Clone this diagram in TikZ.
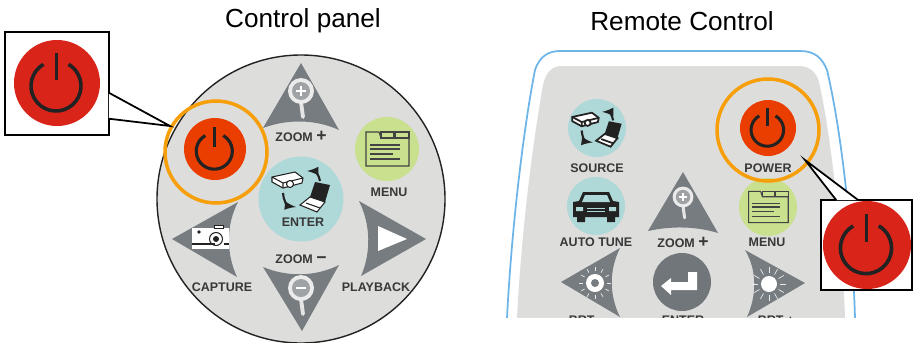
\documentclass[tikz,border=0pt]{standalone}
\usepackage{fontspec}
\setmainfont{Liberation Sans}
\usetikzlibrary{arrows,shapes}
\definecolor{padgray}{HTML}{DDDDDC}
\definecolor{tricolor}{HTML}{767C7F}
\definecolor{inkcolor}{HTML}{222222}
\definecolor{ringcolor}{HTML}{F79F0A}
\definecolor{btnred}{HTML}{EA3D00}
\definecolor{zoomred}{HTML}{D92419}
\definecolor{edgeblue}{HTML}{6DB5E8}
\definecolor{tealbtn}{HTML}{AFD8D8}
\definecolor{greenbtn}{HTML}{C9E08F}
\tikzset{
  title/.style={font=\fontsize{14.9}{16}\selectfont,inner sep=0pt},
  keylabel/.style={font=\fontsize{7.1}{8}\selectfont\bfseries,text=black!78,inner sep=0pt},
  orangering/.style={draw=ringcolor,line width=2pt},
  calloutbox/.style={draw=black,fill=white,line width=.8pt,inner sep=0pt,minimum width=#1},
  pointer/.style={draw=black,fill=white,line width=1pt},
}
\newcommand{\bigsign}[1]{{\fontsize{10}{8}\selectfont #1}}
% x y radius discolor
\newcommand{\powerbtn}[4]{%
\begin{scope}[shift={(#1,#2)},scale=#3/43]
\fill[#4] (0,0) circle[radius=43];
\draw[inkcolor,line width=1.1pt+#3*.022pt] (-1,3)+(240:25) arc[start angle=240,end angle=-60,radius=25];
\draw[inkcolor,line width=1.1pt+#3*.022pt] (-.5,-30) -- (-.5,-3);
\end{scope}}
% x y scale sign
\newcommand{\magnifier}[4]{%
\begin{scope}[shift={(#1,#2)},scale=#3]
\draw[white!90!black,line width=#3*2.2pt,line cap=round] (0,11) -- (2,26);
\fill[black!8] (0,0) circle[radius=13];
\fill[tricolor!70] (0,0) circle[radius=9];
\draw[white,line width=#3*.8pt] (-5,0) -- (5,0);
#4
\end{scope}}
\newcommand{\plussign}{\draw[white,line width=.8pt] (0,-5) -- (0,5);}
% x y scale
\newcommand{\menudoc}[3]{%
\begin{scope}[shift={(#1,#2)},scale=#3]
\draw[inkcolor!85,line width=.6pt] (-21,-17) -- (-8,-17) -- (-6,-11) -- (22,-11) -- (22,17) -- (-21,17) -- cycle;
\draw[inkcolor!85,line width=.6pt] (-6,-17) rectangle (7,-11) (8,-17) rectangle (22,-11);
\foreach \yy/\xe in {-4/13,0/13,5/6,10/13}
  \draw[inkcolor!85,line width=.8pt] (-17,\yy) -- (\xe,\yy);
\end{scope}}
% x y scale linewidth
\newcommand{\enterart}[4]{%
\begin{scope}[shift={(#1,#2)},scale=#3]
\draw[inkcolor,fill=white,line width=#4] (-29,-13) -- (-6,-18) -- (2,-12) -- (1,-7) -- (-18,-2) -- (-29,-8) -- cycle;
\draw[inkcolor,line width=#4] (-29,-13) -- (-18,-7) -- (2,-12) (-18,-7) -- (-18,-2);
\draw[inkcolor,fill=white,line width=#4] (-11,-6) circle[radius=3.5];
\fill[inkcolor] (14,-8) -- (29,-5) -- (24,12) -- (9,7) -- cycle;
\draw[inkcolor,fill=white,line width=#4] (9,7) -- (24,12) -- (16,22) -- (-1,15) -- cycle;
\draw[inkcolor,line width=#4] (5,13) -- (19,18);
\draw[inkcolor,line width=1.2pt,-latex] (19,-9) .. controls (18,-16) and (13,-19) .. (6,-19);
\draw[inkcolor,line width=1.2pt,-latex] (-18,3) .. controls (-18,10) and (-13,16) .. (-5,17);
\end{scope}}
% x y
\newcommand{\camera}[2]{%
\begin{scope}[shift={(#1,#2)}]
\fill[white] (-19,-10) rectangle (18,11);
\fill[white] (3,-13) rectangle (12,-10);
\draw[inkcolor,line width=.4pt] (3,-13) rectangle (12,-10);
\draw[inkcolor,line width=.7pt] (-19,6) -- (4,6) (13,6) -- (18,6);
\fill[inkcolor] (-12,-6) circle[radius=1.8];
\draw[inkcolor,line width=.6pt] (5,1) circle[radius=6.5];
\fill[inkcolor] (5,1) circle[radius=3];
\end{scope}}
% x y
\newcommand{\carart}[2]{%
\begin{scope}[shift={(#1,#2)}]
\fill[inkcolor] (-23,-3) -- (-17,-4) -- (-13,-13) -- (13,-13) -- (17,-4) -- (23,-3) -- (23,12) -- (19,12) -- (19,17) -- (11,17) -- (11,12) -- (-11,12) -- (-11,17) -- (-19,17) -- (-19,12) -- (-23,12) -- cycle;
\fill[tealbtn] (-11,-10) -- (11,-10) -- (14,-3) -- (-14,-3) -- cycle;
\fill[tealbtn] (-20,2) rectangle (-13,6) (13,2) rectangle (20,6);
\draw[tealbtn,line width=.5pt] (-9,3) -- (9,3) (-9,6) -- (9,6);
\end{scope}}
% x y coreradius innerradius raystart rayend
\newcommand{\sunart}[6]{%
\begin{scope}[shift={(#1,#2)}]
\foreach \ang in {0,30,...,330}
  \draw[white!85!tricolor,line width=.4pt] (\ang:#5) -- (\ang:#6);
\fill[white] (0,0) circle[radius=#3];
\fill[tricolor] (0,0) circle[radius=#4];
\end{scope}}
\begin{document}
\begin{tikzpicture}[x=0.02cm,y=-0.02cm]
\useasboundingbox (0,0) rectangle (915,342);
\node[title] (paneltitle) at (303,21) {Control panel};
\node[title] (remotetitle) at (682,21) {Remote Control};
\begin{scope}
\clip (0,0) rectangle (915,342);
\filldraw[fill=padgray,draw=inkcolor,line width=.8pt] (301,199) circle[radius=144];
\end{scope}
\fill[tricolor] (301,63) -- (339,130) .. controls (315,119) and (287,119) .. (263,128) -- cycle;
\fill[tricolor] (302,331) -- (263,267) .. controls (287,277) and (315,277) .. (339,265) -- cycle;
\fill[tricolor] (172,239) -- (238,202) .. controls (226,225) and (226,253) .. (237,277) -- cycle;
\fill[tricolor] (426,239) -- (359,201) .. controls (371,225) and (371,253) .. (361,276) -- cycle;
\magnifier{301}{91}{1}{\plussign}
\magnifier{301}{288}{1}{}
\fill[white] (378,226) -- (407,239) -- (378,251) -- cycle;
\camera{211}{238}
\fill[greenbtn] (387,149) circle[radius=32];
\menudoc{387}{149}{1}
\fill[tealbtn] (301,199) circle[radius=42.5];
\enterart{301}{190}{1}{.6pt}
\powerbtn{215}{149}{31}{btnred}
\node[keylabel] (zoominlabel) at (301,136) {ZOOM \bigsign{+}};
\node[keylabel] (menulabel) at (389,192) {MENU};
\node[keylabel] (enterlabel) at (303,222) {ENTER};
\node[keylabel] (zoomoutlabel) at (301,259) {ZOOM \bigsign{−}};
\node[keylabel] (capturelabel) at (222,287) {CAPTURE};
\node[keylabel] (playbacklabel) at (376,287) {PLAYBACK};
\begin{scope}
\clip (490,0) rectangle (915,317);
\draw[edgeblue,line width=1pt,fill=white] (507,318) .. controls (512,220) and (525,120) .. (535,70) .. controls (540,55) and (550,51) .. (560,51) -- (800,51) .. controls (815,51) and (822,58) .. (827,70) .. controls (840,125) and (852,220) .. (855,318);
\fill[padgray] (517,318) .. controls (522,220) and (535,130) .. (543,85) .. controls (546,72) and (552,66) .. (562,66) -- (798,66) .. controls (810,66) and (816,72) .. (819,82) .. controls (832,140) and (842,240) .. (845,318) -- cycle;
\fill[tealbtn] (597,128) circle[radius=29];
\enterart{597}{128}{.85}{1pt}
\fill[tealbtn] (596,206) circle[radius=29];
\carart{596}{205}
\fill[greenbtn] (768,207) circle[radius=29];
\menudoc{768}{207}{.92}
\powerbtn{768}{128}{28}{btnred}
\fill[tricolor] (683,172) -- (718,233) .. controls (695,226) and (671,226) .. (648,231) -- cycle;
\magnifier{683}{197}{.8}{\plussign}
\fill[tricolor!95!black] (682,282) circle[radius=29];
\fill[white] (688,272) -- (697,272) -- (697,290) -- (671,290) -- (671,295) -- (661,286) -- (671,278) -- (671,282) -- (688,282) -- cycle;
\fill[tricolor] (561,282) -- (620,248) .. controls (609,270) and (609,295) .. (620,317) -- cycle;
\fill[tricolor] (805,283) -- (745,250) .. controls (757,270) and (757,295) .. (747,317) -- cycle;
\sunart{595}{283}{9}{4}{12}{16}
\sunart{769}{284}{8}{0}{11}{17}
\node[keylabel] (sourcelabel) at (597,168) {SOURCE};
\node[keylabel] (powerlabel) at (768,168) {POWER};
\node[keylabel] (autotunelabel) at (596,242) {AUTO TUNE};
\node[keylabel] (zoomlabel) at (683,242) {ZOOM \bigsign{+}};
\node[keylabel] (remotemenulabel) at (767,242) {MENU};
\node[keylabel] (brtdownlabel) at (587,320) {BRT −};
\node[keylabel] (remoteenterlabel) at (683,320) {ENTER};
\node[keylabel] (brtuplabel) at (776,320) {BRT +};
\end{scope}
\draw[orangering] (216,152) circle[radius=51];
\draw[orangering] (768,130) circle[radius=51];
\node[calloutbox=2.08cm,minimum height=2.06cm] (panelbox) at (57,83.5) {};
\node[calloutbox=1.82cm,minimum height=1.8cm] (remotebox) at (866.5,245) {};
\coordinate (paneltip) at (170,126);
\coordinate (remotetip) at (805,160);
\filldraw[pointer] ([xshift=-.5pt,yshift=.86cm]panelbox.south east) -- (paneltip) -- ([xshift=-.5pt,yshift=.34cm]panelbox.south east);
\filldraw[pointer] ([xshift=.32cm,yshift=-.5pt]remotebox.north west) -- (remotetip) -- ([xshift=.76cm,yshift=-.5pt]remotebox.north west);
\powerbtn{57}{83}{43}{zoomred}
\powerbtn{867}{245}{44}{zoomred}
\end{tikzpicture}
\end{document}
